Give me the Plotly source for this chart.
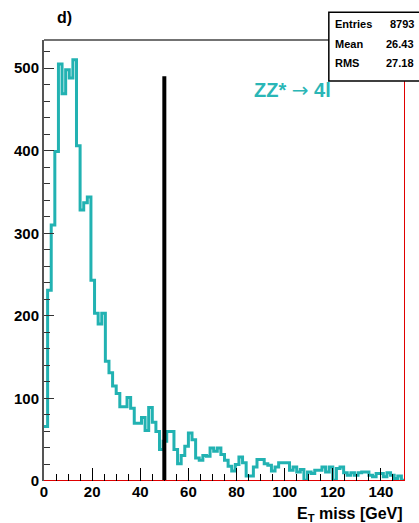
import numpy as np
import plotly.graph_objects as go

# ---- data ----
BIN_WIDTH = 1.5
X_MIN, X_MAX = 0, 150
Y_MAX = 534
counts = [66, 231, 310, 399, 505, 469, 498, 488, 510, 406,
          328, 337, 344, 243, 203, 190, 203, 145, 131, 115,
          106, 90, 90, 101, 88, 70, 70, 77, 61, 89,
          71, 60, 38, 48, 60, 60, 38, 21, 31, 42,
          58, 50, 28, 25, 31, 30, 40, 36, 40, 32,
          25, 18, 12, 20, 29, 22, 6, 6, 17, 26,
          26, 21, 19, 12, 17, 22, 22, 22, 13, 17,
          11, 14, 1, 11, 9, 13, 13, 17, 11, 17,
          1, 15, 17, 10, 7, 10, 7, 10, 11, 11,
          7, 5, 9, 9, 5, 10, 7, 3, 6, 1]
CUT_X = 50
CUT_TOP = 490
stats_labels = ["Entries", "Mean", "RMS"]
stats_values = ["8793", "26.43", "27.18"]
panel_label = "d)"
process_label = ("ZZ* <span style='font-family:DejaVu Sans;font-weight:normal'>\u2192</span> 4l")
x_title = "E<sub>T</sub> miss [GeV]"

TEAL = "#22b2b2"
FONT = "Liberation Sans"

edges = X_MIN + BIN_WIDTH * np.arange(len(counts) + 1)
ys = list(counts) + [counts[-1]]

fig = go.Figure()
fig.add_trace(go.Scatter(x=edges, y=ys, mode="lines", line_shape="hv",
                         line=dict(color=TEAL, width=3), hoverinfo="skip"))
# cut line
fig.add_trace(go.Scatter(x=[CUT_X, CUT_X], y=[0, CUT_TOP], mode="lines",
                         line=dict(color="black", width=4), hoverinfo="skip"))
# red lines at y=0 and x=X_MAX
fig.add_trace(go.Scatter(x=[X_MIN, X_MAX], y=[0, 0], mode="lines",
                         line=dict(color="#e00000", width=2), hoverinfo="skip",
                         cliponaxis=False))
fig.add_trace(go.Scatter(x=[X_MAX, X_MAX], y=[0, Y_MAX], mode="lines",
                         line=dict(color="#e00000", width=2), hoverinfo="skip",
                         cliponaxis=False))

# frame top line
fig.add_shape(type="line", xref="paper", yref="paper", x0=0, x1=1, y0=1, y1=1,
              line=dict(color="#444444", width=1.5))

# stats box
fig.add_shape(type="rect", xref="paper", yref="paper",
              x0=0.789, x1=1.1, y0=0.907, y1=1.063,
              line=dict(color="black", width=1.5), fillcolor="white")
row_y = [1.037, 0.992, 0.947]
for lab, val, yy in zip(stats_labels, stats_values, row_y):
    fig.add_annotation(text=lab, xref="paper", yref="paper", x=0.800, y=yy,
                       xanchor="left", yanchor="middle", showarrow=False,
                       font=dict(family=FONT, size=11, color="black", weight="bold"))
    fig.add_annotation(text=val, xref="paper", yref="paper", x=1.030, y=yy,
                       xanchor="right", yanchor="middle", showarrow=False,
                       font=dict(family=FONT, size=11, color="black", weight="bold"))

fig.add_annotation(text=panel_label, xref="paper", yref="paper", x=0.030, y=1.050,
                   xanchor="left", yanchor="middle", showarrow=False,
                   font=dict(family=FONT, size=16, color="black", weight="bold"))
fig.add_annotation(text=process_label, xref="paper", yref="paper", x=0.575, y=0.887,
                   xanchor="left", yanchor="middle", showarrow=False,
                   font=dict(family=FONT, size=20, color="#2ab6b6", weight="bold"))
fig.add_annotation(text=x_title, xref="paper", yref="paper", x=1.0, y=-0.075,
                   xanchor="right", yanchor="middle", showarrow=False,
                   font=dict(family=FONT, size=16, color="black", weight="bold"))

fig.update_layout(
    width=419, height=523,
    margin=dict(l=44, r=14, t=40, b=42),
    paper_bgcolor="white", plot_bgcolor="white",
    showlegend=False,
    xaxis=dict(range=[X_MIN, X_MAX], dtick=20, tick0=0, ticks="inside",
               ticklen=13, tickwidth=1.2, tickcolor="black",
               minor=dict(dtick=5, ticklen=7, tickwidth=1.2, tickcolor="black", ticks="inside"),
               showgrid=False, zeroline=False, showline=False,
               tickfont=dict(family=FONT, size=15, color="black", weight="bold")),
    yaxis=dict(range=[0, Y_MAX], dtick=100, tick0=0, ticks="inside",
               ticklen=10, tickwidth=1.2, tickcolor="#333333",
               minor=dict(dtick=20, ticklen=6, tickwidth=1.2, tickcolor="#333333", ticks="inside"),
               showgrid=False, zeroline=False, showline=True,
               linecolor="#555555", linewidth=2,
               tickfont=dict(family=FONT, size=15, color="black", weight="bold")),
)

fig.write_html("out.html")
